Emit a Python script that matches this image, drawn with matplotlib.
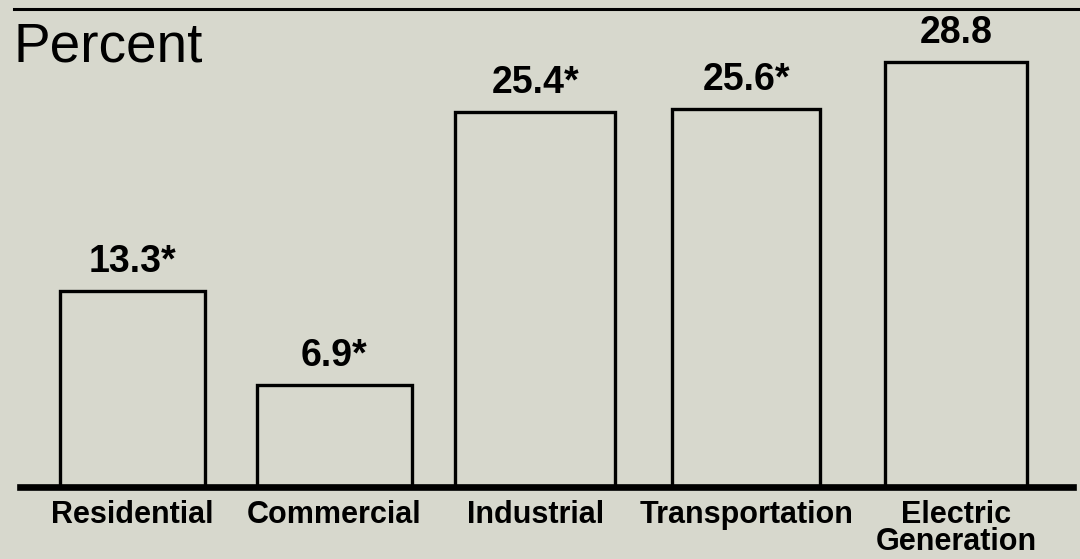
import matplotlib
matplotlib.use("Agg")
import matplotlib.pyplot as plt

categories = ["Residential", "Commercial", "Industrial", "Transportation", "Electric\nGeneration"]
values = [13.3, 6.9, 25.4, 25.6, 28.8]
value_labels = ["13.3*", "6.9*", "25.4*", "25.6*", "28.8"]

# bar layout as drawn in the original (slightly uneven)
positions = [0, 0.98, 1.955, 2.98, 4.0]
widths = [0.705, 0.75, 0.78, 0.72, 0.69]

bg = "#d7d8cd"
plt.rcParams["font.family"] = ["Liberation Sans", "DejaVu Sans"]

fig = plt.figure(figsize=(10.8, 5.59), dpi=100, facecolor=bg)
ax = fig.add_axes([0, 0, 1, 1])
ax.set_facecolor(bg)

ax.bar(positions, values, width=widths, color=bg, edgecolor="black", linewidth=2.4, zorder=2)

for xi, v, lab in zip(positions, values, value_labels):
    ax.annotate(lab, (xi, v), xytext=(0, 8), textcoords="offset points",
                ha="center", va="bottom", fontsize=27, fontweight="bold")
for xi, c in zip(positions, categories):
    ax.annotate(c, (xi, 0), xytext=(0, -9.5), textcoords="offset points",
                ha="center", va="top", fontsize=22, fontweight="bold",
                linespacing=0.86)

# baseline and top rule
ax.axhline(0, xmin=20/1080, xmax=1073/1080, color="black", linewidth=4.8, zorder=3)
ax.plot([14/1080, 1.0], [1 - 9/559, 1 - 9/559], transform=ax.transAxes,
        color="black", linewidth=2.2, clip_on=False)

fig.text(14/1080, 1 - 21/559, "Percent", ha="left", va="top", fontsize=39.5)

ax.set_xlim(-0.643, 4.60)
ax.set_ylim(-4.88, 33.02)
ax.axis("off")

plt.savefig("out.png", dpi=100, facecolor=bg)
